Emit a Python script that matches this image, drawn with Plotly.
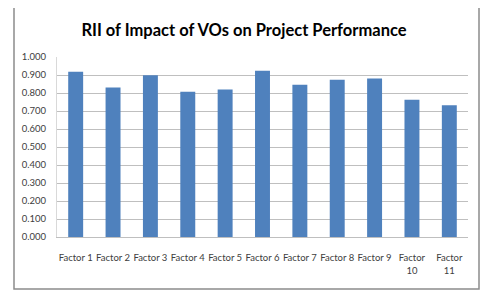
import plotly.graph_objects as go

categories = ["Factor 1", "Factor 2", "Factor 3", "Factor 4", "Factor 5", "Factor 6",
              "Factor 7", "Factor 8", "Factor 9", "Factor<br>10", "Factor<br>11"]
rii_values = [0.918, 0.830, 0.898, 0.807, 0.820, 0.924, 0.846, 0.874, 0.881, 0.763, 0.732]
title_text = "RII of Impact of VOs on Project Performance"

W, H = 488, 304
OFF = 8  # default page body margin
# plot area in viewport pixels: x 57..468, y 57..237
L = 57 - OFF
T = 57 - OFF
R = W - (468 - OFF)
B = H - (237 - OFF)
pw, ph = W - L - R, H - T - B

def px_x(px):
    return (px - OFF - L) / pw

def px_y(py):
    return (H - B - (py - OFF)) / ph

tick_font = dict(family="Lato, sans-serif", size=9.5, color="#404040")

fig = go.Figure(go.Bar(x=categories, y=rii_values, marker_color="#4F81BD",
                       marker_line_width=0))

fig.update_layout(
    width=W, height=H,
    margin=dict(l=L, r=R, t=T, b=B, autoexpand=False),
    paper_bgcolor="white", plot_bgcolor="white",
    bargap=0.6,
    showlegend=False,
    title=dict(text=title_text, x=(244 - OFF) / W, xref="container", xanchor="center",
               y=1 - (30 - OFF) / H, yref="container", yanchor="middle",
               font=dict(family="Lato", size=16.5, color="#000000", weight="bold")),
    font=tick_font,
    yaxis=dict(range=[0, 1.0], dtick=0.1, tickformat=".3f", automargin=False,
               showgrid=True, gridcolor="#BFBFBF", gridwidth=1,
               showline=True, linecolor="#D9D9D9", zeroline=False,
               ticks="outside", ticklen=8, tickcolor="rgba(0,0,0,0)",
               tickfont=tick_font),
    xaxis=dict(showline=True, linecolor="#BFBFBF", linewidth=1, automargin=False,
               ticks="outside", ticklen=12, tickcolor="rgba(0,0,0,0)",
               tickangle=0, tickfont=tick_font),
    shapes=[dict(type="rect", xref="paper", yref="paper",
                 x0=px_x(14), x1=px_x(479), y0=px_y(289), y1=px_y(7),
                 line=dict(color="#8C8C8C", width=1.5), fillcolor="rgba(0,0,0,0)",
                 layer="below")],
)

fig.write_html("out.html")
